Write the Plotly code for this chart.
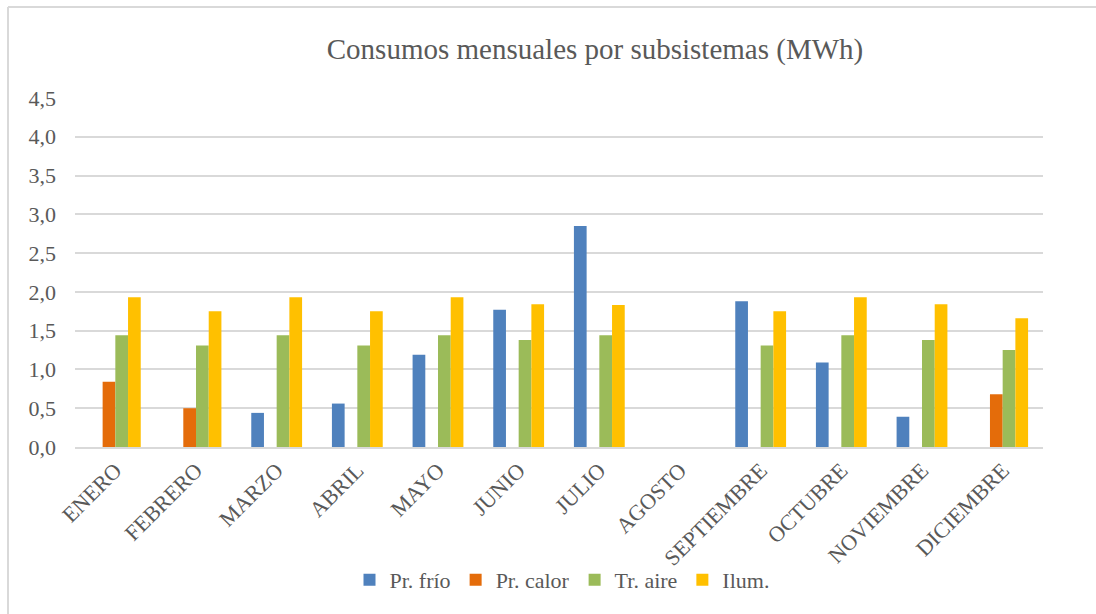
import plotly.graph_objects as go

months = ["ENERO", "FEBRERO", "MARZO", "ABRIL", "MAYO", "JUNIO", "JULIO",
          "AGOSTO", "SEPTIEMBRE", "OCTUBRE", "NOVIEMBRE", "DICIEMBRE"]
pr_frio = [None, None, 0.44, 0.56, 1.19, 1.77, 2.85, None, 1.88, 1.09, 0.39, None]
pr_calor = [0.84, 0.50, None, None, None, None, None, None, None, None, None, 0.68]
tr_aire = [1.44, 1.31, 1.44, 1.31, 1.44, 1.38, 1.44, None, 1.31, 1.44, 1.38, 1.25]
ilum = [1.93, 1.75, 1.93, 1.75, 1.93, 1.84, 1.83, None, 1.75, 1.93, 1.84, 1.66]

y_ticks = [0, 0.5, 1.0, 1.5, 2.0, 2.5, 3.0, 3.5, 4.0, 4.5]
y_tick_text = ["0,0", "0,5", "1,0", "1,5", "2,0", "2,5", "3,0", "3,5", "4,0", "4,5"]

series = [
    ("Pr. frío", pr_frio, "#4F81BD"),
    ("Pr. calor", pr_calor, "#E46C0A"),
    ("Tr. aire", tr_aire, "#9BBB59"),
    ("Ilum.", ilum, "#FFC000"),
]

FONT = "Liberation Serif"
GRAY = "#595959"

fig = go.Figure()
for name, vals, color in series:
    fig.add_trace(go.Bar(x=months, y=vals, name=name,
                         marker=dict(color=color, line=dict(width=0))))

W, H = 1096, 614
L, R, T, B = 75, 53, 98, 167
pw, ph = W - L - R, H - T - B

def px_x(x):
    return (x - L) / pw

def px_y(y):
    return (H - B - y) / ph

fig.update_layout(
    width=W, height=H,
    margin=dict(l=L, r=R, t=T, b=B),
    paper_bgcolor="white", plot_bgcolor="white",
    barmode="group", bargap=0.37, bargroupgap=0,
    font=dict(family=FONT, color=GRAY, size=22),
    title=dict(text="Consumos mensuales por subsistemas (MWh)",
               x=px_x(595), xanchor="center", xref="paper",
               y=1 - 49 / H, yanchor="middle",
               font=dict(family=FONT, size=29, color=GRAY)),
    showlegend=True,
    legend=dict(orientation="h", x=px_x(562), xanchor="center",
                y=px_y(580), yanchor="middle",
                font=dict(family=FONT, size=22, color=GRAY),
                itemwidth=30, tracegroupgap=0, bgcolor="rgba(0,0,0,0)"),
    xaxis=dict(tickangle=-45, showgrid=False, showline=True,
               linecolor="#D9D9D9", linewidth=1.5, ticks="",
               tickfont=dict(family=FONT, size=22, color=GRAY)),
    yaxis=dict(range=[0, 4.5], tickvals=y_ticks, ticktext=y_tick_text,
               showgrid=True, gridcolor="#D9D9D9", gridwidth=1.5,
               zeroline=False, showline=False, ticks="",
               ticklabelstandoff=18,
               tickfont=dict(family=FONT, size=22, color=GRAY)),
    shapes=[
        dict(type="line", xref="paper", yref="paper",
             x0=px_x(8), x1=px_x(1100), y0=px_y(7), y1=px_y(7),
             line=dict(color="#D9D9D9", width=2)),
        dict(type="line", xref="paper", yref="paper",
             x0=px_x(8), x1=px_x(8), y0=px_y(7), y1=px_y(620),
             line=dict(color="#D9D9D9", width=2)),
    ],
)

fig.write_html("out.html")
